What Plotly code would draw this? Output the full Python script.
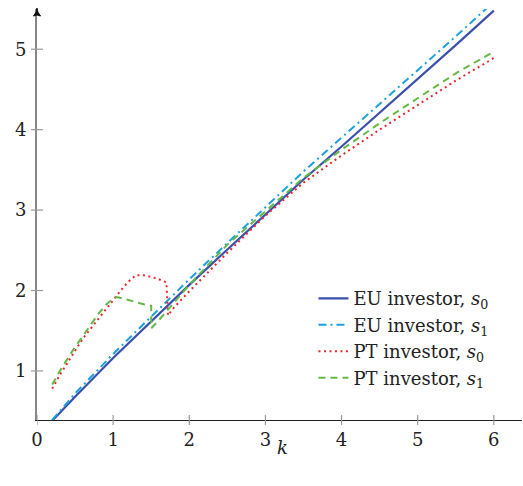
import plotly.graph_objects as go

# ---------------- data ----------------
k_eu = [0.2, 0.5, 1.0, 1.5, 2.0, 2.5, 3.0, 3.5, 4.0, 4.5, 5.0, 5.5, 6.0]
eu_s0 = [0.38, 0.68, 1.16, 1.62, 2.07, 2.51, 2.95, 3.38, 3.79, 4.21, 4.62, 5.05, 5.48]
eu_s1 = [0.39, 0.72, 1.21, 1.68, 2.14, 2.59, 3.04, 3.48, 3.90, 4.32, 4.73, 5.16, 5.59]

k_pt0 = [0.2, 0.3, 0.4, 0.5, 0.6, 0.7, 0.8, 0.9, 1.0, 1.1, 1.2, 1.3, 1.4, 1.5, 1.6, 1.7,
         1.72, 1.8, 1.9, 2.0, 2.5, 3.0, 3.5, 4.0, 4.5, 5.0, 5.5, 6.0]
pt_s0 = [0.78, 0.95, 1.10, 1.25, 1.40, 1.52, 1.64, 1.77, 1.89, 2.00, 2.11, 2.19, 2.19, 2.17, 2.14, 2.10,
         1.69, 1.79, 1.89, 1.99, 2.47, 2.93, 3.34, 3.68, 4.00, 4.31, 4.61, 4.89]

k_pt1 = [0.2, 0.3, 0.4, 0.5, 0.6, 0.7, 0.8, 0.9, 1.0, 1.05, 1.2, 1.4, 1.5, 1.5, 1.6, 1.7,
         1.8, 1.9, 2.0, 2.5, 3.0, 3.5, 4.0, 4.5, 5.0, 5.5, 6.0]
pt_s1 = [0.83, 1.00, 1.15, 1.30, 1.43, 1.57, 1.70, 1.82, 1.90, 1.92, 1.88, 1.83, 1.81, 1.53, 1.63, 1.74,
         1.85, 1.96, 2.07, 2.57, 2.98, 3.40, 3.75, 4.08, 4.39, 4.70, 4.97]

x_ticks = [0, 1, 2, 3, 4, 5, 6]
y_ticks = [1, 2, 3, 4, 5]

names = ["EU investor, <i>s</i><sub>0</sub>", "EU investor, <i>s</i><sub>1</sub>",
         "PT investor, <i>s</i><sub>0</sub>", "PT investor, <i>s</i><sub>1</sub>"]

FONT = "DejaVu Serif, Liberation Serif, serif"
FS = 18
TXT = "#222222"
X_RANGE = [0, 6.37]
Y_RANGE = [0.39, 5.5]

fig = go.Figure()
fig.add_trace(go.Scatter(x=k_eu, y=eu_s0, mode="lines", name=names[0],
                         line=dict(color="#3b50ad", width=2.2)))
fig.add_trace(go.Scatter(x=k_eu, y=eu_s1, mode="lines", name=names[1],
                         line=dict(color="#1ba1e2", width=2, dash="8px,4px,2px,4px")))
fig.add_trace(go.Scatter(x=k_pt0, y=pt_s0, mode="lines", name=names[2],
                         line=dict(color="#e8262d", width=2, dash="2px,3.5px")))
fig.add_trace(go.Scatter(x=k_pt1, y=pt_s1, mode="lines", name=names[3],
                         line=dict(color="#66b845", width=2, dash="7px,5px")))

shapes = []
for t in x_ticks:
    shapes.append(dict(type="line", xref="x", yref="paper", x0=t, x1=t, y0=-0.012, y1=0.012,
                       line=dict(color="#999999", width=1.2), layer="above"))
for t in y_ticks:
    shapes.append(dict(type="line", xref="paper", yref="y", x0=-0.0124, x1=0.0124, y0=t, y1=t,
                       line=dict(color="#999999", width=1.2), layer="above"))
# arrow head at the top of the y axis
shapes.append(dict(type="path", xref="paper", yref="paper", xsizemode="pixel", ysizemode="pixel",
                   xanchor=0, yanchor=1,
                   path="M-3.5,-7 Q0,-3 0,1 Q0,-3 3.5,-7 Q0,-5 -3.5,-7 Z",
                   fillcolor="#111111", line=dict(color="#111111", width=1), layer="above"))

fig.update_layout(
    width=523, height=486,
    margin=dict(l=37, r=1, t=9, b=66, autoexpand=False),
    paper_bgcolor="white", plot_bgcolor="white",
    font=dict(family=FONT, size=FS, color=TXT),
    showlegend=True,
    legend=dict(x=0.570, y=0.34, xanchor="left", yanchor="top",
                bgcolor="rgba(255,255,255,0)", borderwidth=0,
                font=dict(family=FONT, size=FS, color=TXT)),
    xaxis=dict(range=X_RANGE, tickvals=x_ticks, ticktext=[str(t) for t in x_ticks],
               automargin=False,
               showgrid=False, zeroline=False, showline=True, linecolor="#222222", linewidth=1.2,
               ticks="outside", ticklen=3, tickcolor="rgba(0,0,0,0)",
               tickfont=dict(family=FONT, size=FS, color=TXT)),
    yaxis=dict(range=Y_RANGE, tickvals=y_ticks, ticktext=[str(t) for t in y_ticks],
               automargin=False,
               showgrid=False, zeroline=False, showline=True, linecolor="#888888", linewidth=2,
               ticks="outside", ticklen=5, tickcolor="rgba(0,0,0,0)",
               tickfont=dict(family=FONT, size=FS, color=TXT)),
    shapes=shapes,
    annotations=[
        dict(x=0.507, y=-0.066, xref="paper", yref="paper", text="<i>k</i>", showarrow=False,
             xanchor="center", yanchor="middle", font=dict(family=FONT, size=FS, color=TXT)),
    ],
)

fig.write_html("out.html", config={"displayModeBar": False},
               post_script="document.body.style.margin='0px';")
